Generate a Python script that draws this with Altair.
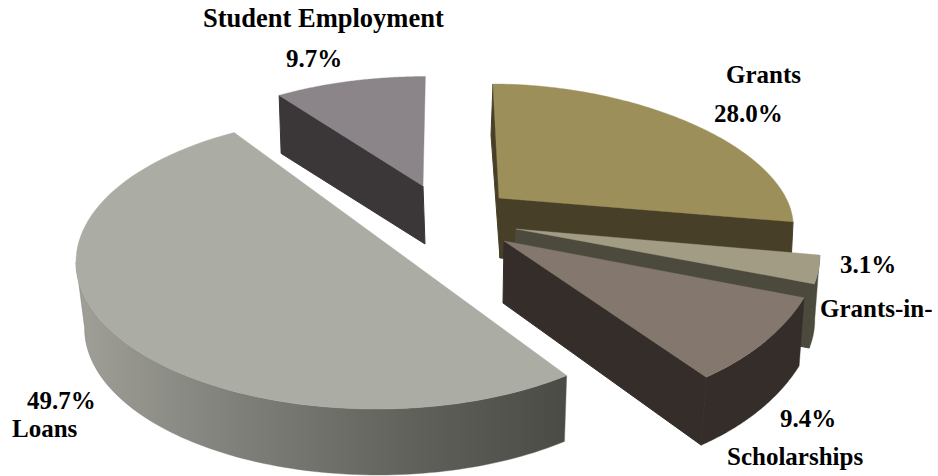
import numpy as np
import pandas as pd
import altair as alt

# Shares of student aid, in percent, clockwise from twelve o'clock
categories = ["Grants", "Grants-in-", "Scholarships", "Loans", "Student Employment"]
shares = [28.0, 3.1, 9.4, 49.7, 9.7]

W, H = 938, 476
x_scale = alt.Scale(domain=[0, W], range=[0, W], nice=False, zero=False)
y_scale = alt.Scale(domain=[0, H], range=[0, H], nice=False, zero=False)

# Projection of each exploded wedge: ellipse centre and axes, tip, wall depth,
# foreshortening of the sweep and narrowing of the lower rim
view = {
    "Grants": dict(cx=548, cy=200, a=239, b=55, c=0, d=116, tip=(499, 198), t=(-3, 60)),
    "Grants-in-": dict(cx=514, cy=226, a=300, b=59, c=0, d=155, tip=(516, 229), t=(-5, 64)),
    "Scholarships": dict(cx=555.6, cy=232.4, a=268, b=0, c=0, d=175, tip=(504, 241), t=(-5, 68)),
    "Loans": dict(cx=376, cy=262, a=300, b=0, c=0, d=147, tip=(402, 255), t=(2, 66),
                  sweep=1.069, turn=0.9, narrow=0.978),
    "Student Employment": dict(cx=427, cy=179.5, a=256, b=0, c=0, d=103, tip=(423, 186), t=(2, 58)),
}
top_colors = {
    "Grants": "#9c8f5a", "Grants-in-": "#a39c85", "Scholarships": "#84786e",
    "Loans": "#abaca4", "Student Employment": "#8b858a",
}
wall_colors = {
    "Grants": "#483f28", "Grants-in-": "#4c493d", "Scholarships": "#352d2a",
    "Loans": "#4c4d47", "Student Employment": "#3b3738",
}

edges = np.cumsum([0] + shares) * 3.6
spans = {n: (edges[i], edges[i + 1]) for i, n in enumerate(categories)}


def rim(name, start, end, n=90):
    v = view[name]
    lo, hi = spans[name]
    mid = (lo + hi) / 2
    th = np.radians(mid + v.get("turn", 0.0) + (np.linspace(start, end, n) - mid) * v.get("sweep", 1.0))
    s, k = np.sin(th), -np.cos(th)
    return np.column_stack([v["cx"] + v["a"] * s + v["b"] * k, v["cy"] + v["c"] * s + v["d"] * k])


def shape(points, fill, outline=None, weight=0.4):
    df = pd.DataFrame({"x": points[:, 0], "y": points[:, 1], "i": np.arange(len(points))})
    return alt.Chart(df).mark_line(
        fill=fill, stroke=outline or fill, strokeWidth=weight, interpolate="linear-closed",
    ).encode(
        x=alt.X("x:Q", scale=x_scale, axis=None),
        y=alt.Y("y:Q", scale=y_scale, axis=None),
        order="i:Q",
    )


def top_face(name):
    a, b = spans[name]
    return shape(np.vstack([[view[name]["tip"]], rim(name, a, b)]), top_colors[name])


def cut_wall(name, angle, tip_drop=None, edge_drop=None):
    v = view[name]
    edge = rim(name, angle, angle, 1)[0]
    tip = np.array(v["tip"], float)
    tip_t = np.array(tip_drop or v["t"], float)
    edge_t = np.array(edge_drop or v["t"], float)
    return shape(np.array([edge, tip, tip + tip_t, edge + edge_t]), wall_colors[name], weight=1)


def outer_wall(name, start, end, fill, outline=None):
    v = view[name]
    arc = rim(name, start, end)
    lower = arc.copy()
    lower[:, 0] = v["cx"] + (arc[:, 0] - v["cx"]) * v.get("narrow", 1.0)
    lower = lower + np.array(v["t"], float)
    return shape(np.vstack([arc, lower[::-1]]), fill, outline)


# Lit from the left: the Loans rim darkens towards its right-hand end
loan_shade = alt.Gradient(
    gradient="linear", x1=0, x2=1, y1=0, y2=0,
    stops=[
        alt.GradientStop(color="#a09f98", offset=0.0),
        alt.GradientStop(color="#7d7e78", offset=0.35),
        alt.GradientStop(color="#5f605a", offset=0.7),
        alt.GradientStop(color="#4a4b45", offset=1.0),
    ],
)

layers = [
    cut_wall("Student Employment", spans["Student Employment"][0]),
    top_face("Student Employment"),
    cut_wall("Grants", spans["Grants"][0], tip_drop=(1, 60), edge_drop=(-2, 51)),
    cut_wall("Grants", spans["Grants"][1], tip_drop=(1, 60), edge_drop=(-3, 60)),
    top_face("Grants"),
    outer_wall("Grants-in-", *spans["Grants-in-"], wall_colors["Grants-in-"]),
    cut_wall("Grants-in-", spans["Grants-in-"][1]),
    top_face("Grants-in-"),
    outer_wall("Scholarships", *spans["Scholarships"], wall_colors["Scholarships"]),
    cut_wall("Scholarships", spans["Scholarships"][1], tip_drop=(-1, 62)),
    top_face("Scholarships"),
    outer_wall("Loans", spans["Loans"][0], 267, loan_shade, outline="#70716a"),
    top_face("Loans"),
]

labels = pd.DataFrame({
    "text": ["Student Employment", f"{shares[4]}%", "Grants", f"{shares[0]}%", f"{shares[1]}%",
             "Grants-in-", f"{shares[2]}%", "Scholarships", f"{shares[3]}%", "Loans"],
    "x": [203, 286, 726, 714, 840, 820, 780, 727, 27, 12],
    "y": [27, 67, 83, 122, 273, 317, 427, 465, 409, 437],
    "size": [26.5, 25, 25, 25, 25, 25, 25, 25, 25, 25],
})
text = alt.Chart(labels).mark_text(
    font="Liberation Serif", fontWeight="bold", align="left", baseline="alphabetic", color="#000000"
).encode(
    x=alt.X("x:Q", scale=x_scale, axis=None),
    y=alt.Y("y:Q", scale=y_scale, axis=None),
    size=alt.Size("size:Q", scale=None),
    text="text:N",
)

chart = alt.layer(*layers, text).properties(
    width=W, height=H, padding=0, autosize=alt.AutoSizeParams(type="none"), background="#ffffff"
).configure_view(stroke=None)

chart.save("out.html", embed_options={"renderer": "svg", "actions": False})
